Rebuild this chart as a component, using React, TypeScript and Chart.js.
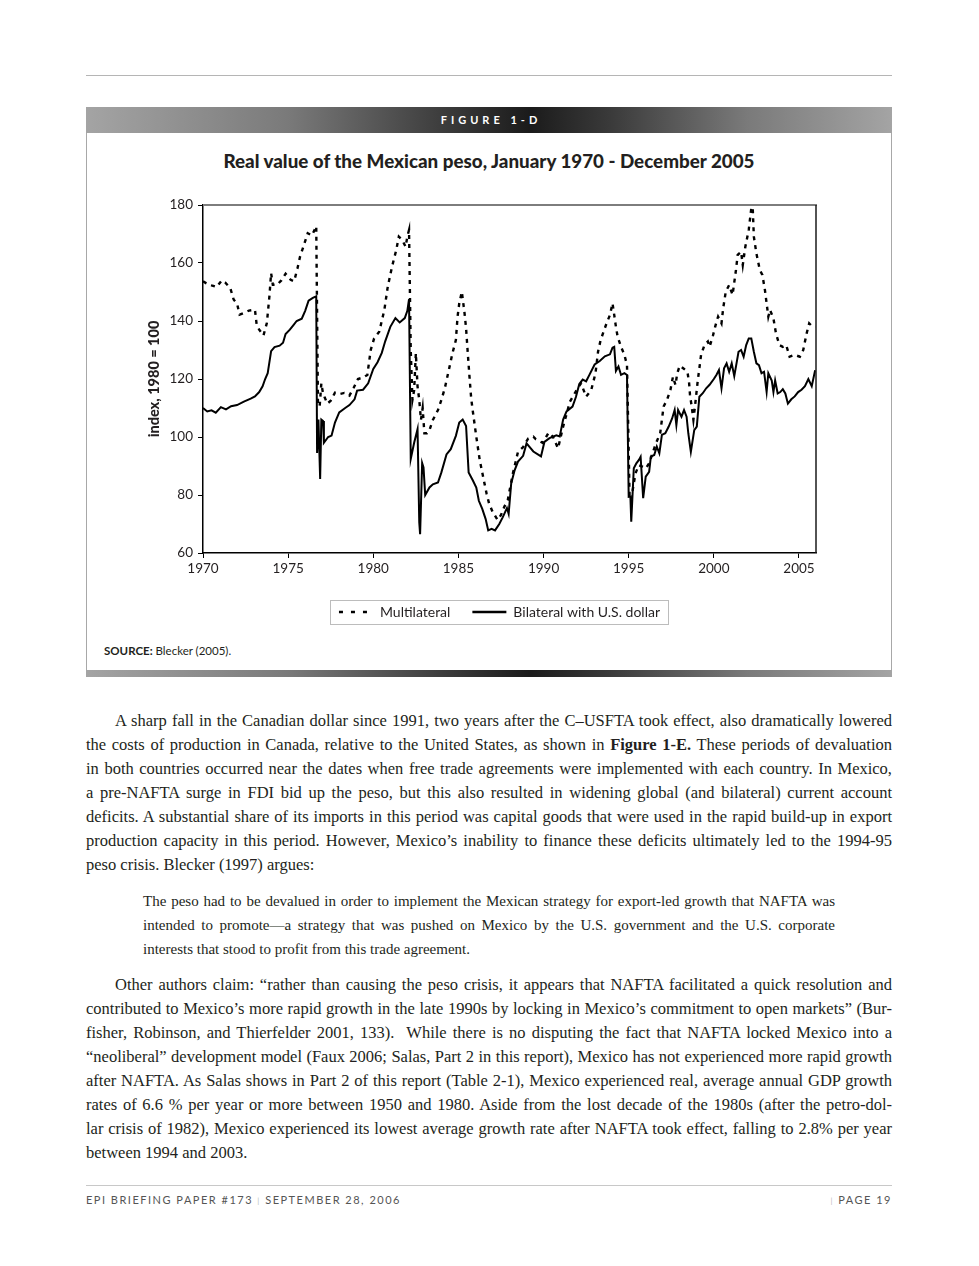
import React, { useEffect, useRef } from "react";
import { Chart, registerables } from "chart.js";

Chart.register(...registerables);

// ---- data (decimal year, index 1980 = 100) ----
const multilateralSeries: [number, number][] = [
  [1970.0, 153.7], [1970.2, 153], [1970.5, 152.3], [1970.8, 151.7], [1971.1, 154], [1971.3, 153.3],
  [1971.6, 151.4], [1971.8, 147.4], [1972.0, 146], [1972.15, 142.2], [1972.4, 142.8], [1972.7, 143.6],
  [1973.05, 143.9], [1973.15, 138.8], [1973.3, 137], [1973.55, 135], [1973.75, 139.3], [1973.9, 148.5],
  [1974.0, 156.5], [1974.1, 152.5], [1974.35, 152.5], [1974.6, 154], [1974.85, 156.3], [1975.15, 154.2],
  [1975.35, 153.7], [1975.55, 158.2], [1975.7, 162.2], [1975.9, 165.7], [1976.15, 170.3], [1976.4, 169.5],
  [1976.65, 172.7], [1976.75, 112], [1976.85, 110.5], [1976.95, 118.5], [1977.05, 115], [1977.15, 113.6],
  [1977.3, 111.5], [1977.5, 112.5], [1977.75, 115.3], [1978.0, 114.8], [1978.3, 115.2], [1978.6, 114.3],
  [1978.85, 117], [1979.1, 120], [1979.4, 120.5], [1979.65, 121.4], [1979.85, 130], [1980.05, 134],
  [1980.35, 136.3], [1980.65, 143.8], [1980.85, 151.8], [1981.1, 158.7], [1981.35, 164.5], [1981.5, 169.1],
  [1981.7, 167.9], [1981.9, 165.6], [1982.0, 169.1], [1982.1, 171.4], [1982.2, 130], [1982.3, 112.8],
  [1982.4, 116.2], [1982.5, 128.9], [1982.6, 117.4], [1982.7, 112.8], [1982.8, 105.9], [1982.9, 110],
  [1983.0, 101.3], [1983.15, 101.3], [1983.3, 102.4], [1983.5, 105.9], [1983.8, 109.3], [1984.0, 112.8],
  [1984.2, 116.8], [1984.5, 124.8], [1984.65, 128.9], [1984.85, 133.4], [1984.95, 141.5], [1985.05, 146.1],
  [1985.2, 150.1], [1985.35, 143.2], [1985.45, 137.5], [1985.55, 128.9], [1985.65, 120.8], [1985.75, 113.3],
  [1985.85, 108.7], [1986.05, 100.1], [1986.25, 92.1], [1986.45, 86.3], [1986.65, 80.6], [1986.8, 77.1],
  [1987.0, 74.3], [1987.3, 71.4], [1987.5, 73.1], [1987.7, 76], [1987.9, 78.3], [1988.2, 87.5],
  [1988.5, 94.9], [1988.8, 96.5], [1989.1, 99.5], [1989.4, 100.1], [1989.55, 99.2], [1989.95, 98],
  [1990.3, 101.5], [1990.55, 100.1], [1990.85, 96.1], [1991.15, 103.6], [1991.55, 112.2], [1992.0, 116.8],
  [1992.2, 118.5], [1992.5, 113.9], [1992.8, 116.2], [1993.05, 122], [1993.2, 129.4], [1993.35, 133.4],
  [1993.7, 139.2], [1993.9, 142.1], [1994.05, 146.1], [1994.15, 142.1], [1994.25, 138], [1994.35, 134.6],
  [1994.55, 131.1], [1994.75, 128.3], [1994.9, 124.8], [1995.05, 80], [1995.2, 80.5], [1995.4, 87.5],
  [1995.6, 90.3], [1995.8, 89.8], [1996.0, 89.2], [1996.2, 90.9], [1996.4, 94.4], [1996.6, 97.8],
  [1996.85, 101.3], [1997.05, 110.5], [1997.25, 112.8], [1997.45, 116.2], [1997.6, 120.8], [1997.75, 117.9],
  [1997.85, 122], [1998.0, 124.6], [1998.2, 123.7], [1998.45, 122.5], [1998.55, 118.5], [1998.6, 114.5],
  [1998.7, 110.5], [1998.8, 105.9], [1998.9, 111], [1999.05, 119.1], [1999.15, 123.7], [1999.25, 128.3],
  [1999.45, 131.7], [1999.65, 132.9], [1999.75, 131.1], [1999.95, 135], [2000.1, 138.5], [2000.25, 141.5],
  [2000.45, 139.2], [2000.55, 144.4], [2000.7, 150.1], [2000.9, 152.4], [2001.1, 149], [2001.3, 157.6],
  [2001.4, 162.8], [2001.6, 163.9], [2001.7, 159.3], [2001.85, 165.6], [2002.05, 171.4], [2002.2, 178.9],
  [2002.27, 181], [2002.35, 169.1], [2002.5, 163.3], [2002.7, 157.6], [2002.85, 155.9], [2003.0, 150.7],
  [2003.1, 146.1], [2003.2, 141.5], [2003.3, 143.8], [2003.5, 140.9], [2003.65, 135.7], [2003.85, 131.7],
  [2004.05, 131.1], [2004.25, 131.7], [2004.45, 127.7], [2004.75, 128.3], [2005.05, 127.7], [2005.25, 130],
  [2005.45, 135.7], [2005.6, 139.2], [2005.8, 138], [2005.95, 138],
];

const bilateralSeries: [number, number][] = [
  [1970.0, 110], [1970.25, 108.8], [1970.5, 109.2], [1970.75, 108.4], [1971.05, 110.3], [1971.35, 109.5],
  [1971.65, 110.6], [1972.0, 111], [1972.4, 112.2], [1972.8, 113.2], [1973.05, 114], [1973.3, 115.5],
  [1973.5, 117.5], [1973.65, 120], [1973.8, 122], [1974.0, 129.6], [1974.2, 131], [1974.5, 131.5],
  [1974.7, 132.5], [1974.85, 135.5], [1975.1, 137], [1975.3, 138.5], [1975.5, 140], [1975.8, 140.8],
  [1976.0, 143.5], [1976.2, 147], [1976.45, 148], [1976.65, 148.5], [1976.7, 94.5], [1976.78, 106],
  [1976.88, 85.5], [1976.95, 106], [1977.05, 105.5], [1977.1, 98], [1977.35, 100], [1977.55, 100.5],
  [1977.75, 105], [1978.0, 108.5], [1978.35, 110], [1978.6, 111], [1978.9, 113], [1979.05, 116],
  [1979.4, 116.3], [1979.7, 118.5], [1980.0, 123.5], [1980.25, 125.8], [1980.5, 129], [1980.7, 133],
  [1981.0, 138], [1981.3, 141], [1981.55, 139.5], [1981.85, 141], [1982.0, 143.5], [1982.1, 147.5],
  [1982.2, 92.4], [1982.4, 98], [1982.6, 102.7], [1982.7, 70.6], [1982.75, 66.5], [1982.87, 91],
  [1982.95, 89.5], [1983.05, 80], [1983.3, 82.6], [1983.5, 83.7], [1983.8, 84.3], [1984.0, 87.8],
  [1984.3, 94], [1984.55, 95.8], [1984.85, 100.4], [1985.05, 105], [1985.25, 106], [1985.45, 103.8],
  [1985.6, 87.8], [1985.85, 85], [1986.05, 82.6], [1986.2, 78], [1986.4, 75.2], [1986.6, 71.7],
  [1986.75, 67.8], [1986.95, 68.3], [1987.15, 67.8], [1987.4, 70], [1987.6, 72.3], [1987.85, 75.5],
  [1987.95, 73.5], [1988.1, 84], [1988.3, 88.5], [1988.5, 91.5], [1988.8, 93.5], [1989.0, 97.8],
  [1989.4, 95], [1989.85, 93.3], [1990.05, 98.3], [1990.35, 99.6], [1990.75, 100.6], [1990.95, 100.2],
  [1991.15, 106], [1991.35, 108.8], [1991.7, 110.5], [1991.9, 113.8], [1992.1, 118.3], [1992.3, 119.8],
  [1992.5, 119.2], [1992.7, 121.5], [1993.0, 125], [1993.3, 126.2], [1993.6, 127.8], [1993.9, 128.5],
  [1994.05, 130.8], [1994.15, 131.1], [1994.25, 122.8], [1994.4, 124.3], [1994.55, 121.4], [1994.75, 122],
  [1994.9, 121.4], [1995.0, 79.4], [1995.1, 79.5], [1995.15, 70.8], [1995.3, 89.2], [1995.45, 90.9],
  [1995.6, 92.1], [1995.7, 93.2], [1995.85, 78.9], [1996.0, 86.3], [1996.2, 88], [1996.3, 93.2],
  [1996.5, 93.8], [1996.65, 96.7], [1996.8, 94.4], [1996.95, 100.7], [1997.15, 101.3], [1997.35, 103.6],
  [1997.55, 106.4], [1997.7, 109.3], [1997.8, 104.1], [1997.9, 109.3], [1998.1, 107], [1998.25, 109.3],
  [1998.4, 107], [1998.5, 101.3], [1998.65, 94.9], [1998.85, 102.4], [1999.0, 103.6], [1999.15, 113.9],
  [1999.35, 115.1], [1999.55, 116.8], [1999.75, 118], [2000.0, 120], [2000.15, 121.4], [2000.3, 123.1],
  [2000.45, 116.8], [2000.6, 123.7], [2000.75, 125.4], [2000.9, 122.5], [2001.05, 125.4], [2001.2, 121],
  [2001.35, 126], [2001.45, 129.4], [2001.6, 130], [2001.75, 127.7], [2001.9, 131.7], [2002.05, 134],
  [2002.2, 134], [2002.35, 129.4], [2002.5, 125.4], [2002.65, 124.8], [2002.8, 122], [2002.95, 122.5],
  [2003.1, 115.5], [2003.2, 122], [2003.4, 119.5], [2003.5, 115.5], [2003.6, 119.5], [2003.75, 115],
  [2003.9, 115.5], [2004.05, 116.5], [2004.2, 115], [2004.35, 111.5], [2004.55, 113], [2004.75, 114],
  [2004.95, 115.5], [2005.15, 116.3], [2005.35, 117.5], [2005.55, 120], [2005.75, 117.5], [2005.95, 123],
];

const yearTicks = [1970, 1975, 1980, 1985, 1990, 1995, 2000, 2005];
const indexTicks = [60, 80, 100, 120, 140, 160, 180];
const seriesNames = ["Multilateral", "Bilateral with U.S. dollar"];

const TEXT = "#231f20";
const SANS = "Lato";

const framePlugin = {
  id: "frameAndLegendBox",
  afterDatasetsDraw(chart: any) {
    const { ctx, chartArea } = chart;
    const { left, right, top, bottom } = chartArea;
    ctx.save();
    ctx.strokeStyle = "#7d7d7d";
    ctx.lineWidth = 2;
    ctx.beginPath();
    ctx.moveTo(left, top);
    ctx.lineTo(right + 1, top);
    ctx.stroke();
    ctx.strokeStyle = "#1a1a1a";
    ctx.lineWidth = 1.5;
    ctx.beginPath();
    ctx.moveTo(right, top);
    ctx.lineTo(right, bottom);
    ctx.stroke();
    ctx.restore();
  },
  afterDraw(chart: any) {
    const legend = chart.legend;
    if (!legend || !legend.legendHitBoxes || !legend.legendHitBoxes.length) return;
    const boxes = legend.legendHitBoxes;
    const l = Math.min(...boxes.map((b: any) => b.left));
    const r = Math.max(...boxes.map((b: any) => b.left + b.width));
    const t = Math.min(...boxes.map((b: any) => b.top));
    const h = boxes[0].height;
    const { ctx } = chart;
    ctx.save();
    ctx.strokeStyle = "#bcbcbc";
    ctx.lineWidth = 1;
    ctx.strokeRect(Math.round(l - 9) + 0.5, Math.round(t - 5) + 0.5, Math.round(r - l + 17), Math.round(h + 10));
    ctx.restore();
  },
};

function PesoChart() {
  const ref = useRef<HTMLCanvasElement | null>(null);
  useEffect(() => {
    if (!ref.current) return;
    const chart = new Chart(ref.current, {
      type: "line",
      data: {
        datasets: [
          {
            label: seriesNames[0],
            data: multilateralSeries.map(([x, y]) => ({ x, y })),
            borderColor: "#000",
            borderWidth: 2.4,
            borderDash: [4, 5],
            pointRadius: 0,
            tension: 0,
            fill: false,
          },
          {
            label: seriesNames[1],
            data: bilateralSeries.map(([x, y]) => ({ x, y })),
            borderColor: "#000",
            borderWidth: 2,
            pointRadius: 0,
            tension: 0,
            fill: false,
          },
        ],
      },
      options: {
        animation: false,
        responsive: false,
        parsing: false as any,
        layout: { padding: { left: 56, right: 35, top: 30, bottom: 11 } },
        plugins: {
          title: { display: false },
          tooltip: { enabled: false },
          legend: {
            position: "bottom",
            labels: {
              usePointStyle: true,
              pointStyleWidth: 34,
              padding: 22,
              color: TEXT,
              font: { family: SANS, size: 14 },
              generateLabels: (c: any) =>
                c.data.datasets.map((ds: any, i: number) => ({
                  text: ds.label,
                  fillStyle: "#000",
                  strokeStyle: "#000",
                  lineWidth: 2.4,
                  lineDash: ds.borderDash ? [4, 8] : [],
                  lineDashOffset: 0,
                  pointStyle: "line",
                  hidden: false,
                  datasetIndex: i,
                  fontColor: TEXT,
                })),
            },
          },
        },
        scales: {
          x: {
            type: "linear",
            min: 1970,
            max: 2006,
            afterBuildTicks: (axis: any) => {
              axis.ticks = yearTicks.map((v) => ({ value: v }));
            },
            afterFit: (axis: any) => {
              axis.height = 30;
              axis.paddingLeft = 0;
              axis.paddingRight = 75;
            },
            ticks: {
              callback: (v: any) => String(v),
              color: TEXT,
              font: { family: SANS, size: 13.5 },
              padding: 3,
              maxRotation: 0,
              autoSkip: false,
            },
            grid: { drawOnChartArea: false, drawTicks: true, tickLength: 5, color: "#000", lineWidth: 1 },
            border: { display: true, color: "#000", width: 1.5 },
          },
          y: {
            type: "linear",
            min: 60,
            max: 180,
            afterBuildTicks: (axis: any) => {
              axis.ticks = indexTicks.map((v) => ({ value: v }));
            },
            afterFit: (axis: any) => {
              axis.width = 60;
            },
            ticks: {
              callback: (v: any) => String(v),
              color: TEXT,
              font: { family: SANS, size: 13.5 },
              padding: 5,
            },
            grid: { drawOnChartArea: false, drawTicks: true, tickLength: 5, color: "#000", lineWidth: 1 },
            border: { display: true, color: "#000", width: 1.5 },
            title: {
              display: true,
              text: "index, 1980 = 100",
              color: TEXT,
              font: { family: SANS, size: 14.5, weight: "900" },
              padding: { top: 3, bottom: 3 },
            },
          },
        },
      },
      plugins: [framePlugin],
    } as any);
    return () => chart.destroy();
  }, []);
  return <canvas ref={ref} width={804} height={465} style={{ display: "block", width: 804, height: 465 }} />;
}

const barGradient =
  "linear-gradient(90deg, #a4a4a4 0%, #7a7a7a 25%, #3a3a3a 45%, #1b1b1b 55%, #3a3a3a 65%, #7a7a7a 82%, #a4a4a4 100%)";

type LineSpec = { content: React.ReactNode; last?: boolean; indent?: boolean };

const para1: LineSpec[] = [
  { content: "A sharp fall in the Canadian dollar since 1991, two years after the C\u2013USFTA took effect, also dramatically lowered", indent: true },
  { content: <>the costs of production in Canada, relative to the United States, as shown in <b>Figure 1-E.</b> These periods of devaluation</> },
  { content: "in both countries occurred near the dates when free trade agreements were implemented with each country. In Mexico," },
  { content: "a pre-NAFTA surge in FDI bid up the peso, but this also resulted in widening global (and bilateral) current account" },
  { content: "deficits. A substantial share of its imports in this period was capital goods that were used in the rapid build-up in export" },
  { content: "production capacity in this period. However, Mexico\u2019s inability to finance these deficits ultimately led to the 1994-95" },
  { content: "peso crisis. Blecker (1997) argues:", last: true },
];

const quote: LineSpec[] = [
  { content: "The peso had to be devalued in order to implement the Mexican strategy for export-led growth that NAFTA was" },
  { content: "intended to promote\u2014a strategy that was pushed on Mexico by the U.S. government and the U.S. corporate" },
  { content: "interests that stood to profit from this trade agreement.", last: true },
];

const para3: LineSpec[] = [
  { content: "Other authors claim: \u201crather than causing the peso crisis, it appears that NAFTA facilitated a quick resolution and", indent: true },
  { content: "contributed to Mexico\u2019s more rapid growth in the late 1990s by locking in Mexico\u2019s commitment to open markets\u201d (Bur-" },
  { content: "fisher, Robinson, and Thierfelder 2001, 133).\u00a0 While there is no disputing the fact that NAFTA locked Mexico into a" },
  { content: "\u201cneoliberal\u201d development model (Faux 2006; Salas, Part 2 in this report), Mexico has not experienced more rapid growth" },
  { content: "after NAFTA. As Salas shows in Part 2 of this report (Table 2-1), Mexico experienced real, average annual GDP growth" },
  { content: "rates of 6.6 % per year or more between 1950 and 1980. Aside from the lost decade of the 1980s (after the petro-dol-" },
  { content: "lar crisis of 1982), Mexico experienced its lowest average growth rate after NAFTA took effect, falling to 2.8% per year" },
  { content: "between 1994 and 2003.", last: true },
];

function TextBlock({ lines, firstCenter, left, width, size }: { lines: LineSpec[]; firstCenter: number; left: number; width: number; size: number }) {
  return (
    <>
      {lines.map((ln, i) => (
        <div
          key={i}
          style={{
            position: "absolute",
            left,
            width,
            top: firstCenter + i * 24 - 11,
            height: 24,
            lineHeight: "24px",
            fontSize: size,
            fontFamily: "'Liberation Serif', 'DejaVu Serif', serif",
            color: TEXT,
            textAlign: ln.last ? "left" : "justify",
            textAlignLast: ln.last ? "left" : "justify",
            paddingLeft: ln.indent ? 29 : 0,
            boxSizing: "border-box",
          } as React.CSSProperties}
        >
          {ln.content}
        </div>
      ))}
    </>
  );
}

export default function App() {
  return (
    <div style={{ position: "absolute", left: 0, top: 0, width: 979, height: 1266, background: "#fff", overflow: "hidden" }}>
      {/* top rule */}
      <div style={{ position: "absolute", left: 86, top: 75, width: 806, height: 1, background: "#b5b5b5" }} />

      {/* figure header bar */}
      <div
        style={{
          position: "absolute",
          left: 86,
          top: 107,
          width: 806,
          height: 26,
          background: barGradient,
          color: "#fff",
          fontFamily: SANS,
          fontWeight: 700,
          fontSize: 11,
          letterSpacing: 4,
          lineHeight: "26px",
          textAlign: "center",
          paddingLeft: 4,
          boxSizing: "border-box",
        }}
      >
        FIGURE 1-D
      </div>

      {/* figure frame */}
      <div
        style={{
          position: "absolute",
          left: 86,
          top: 133,
          width: 806,
          height: 537,
          borderLeft: "1px solid #a8a8a8",
          borderRight: "1px solid #a8a8a8",
          boxSizing: "border-box",
        }}
      />
      <div style={{ position: "absolute", left: 86, top: 670, width: 806, height: 7, background: barGradient }} />

      {/* chart title */}
      <div
        style={{
          position: "absolute",
          left: 86,
          width: 806,
          top: 149,
          height: 24,
          lineHeight: "24px",
          textAlign: "center",
          fontFamily: SANS,
          fontWeight: 900,
          fontSize: 18.8,
          color: TEXT,
        }}
      >
        Real value of the Mexican peso, January 1970 - December 2005
      </div>

      <div style={{ position: "absolute", left: 87, top: 175 }}>
        <PesoChart />
      </div>

      <div
        style={{
          position: "absolute",
          left: 104,
          top: 644,
          fontFamily: SANS,
          fontSize: 11.5,
          lineHeight: "14px",
          color: TEXT,
        }}
      >
        <b>SOURCE:</b> Blecker (2005).
      </div>

      <TextBlock lines={para1} firstCenter={720} left={86} width={806} size={16.5} />
      <TextBlock lines={quote} firstCenter={900} left={143} width={692} size={15} />
      <TextBlock lines={para3} firstCenter={984} left={86} width={806} size={16.5} />

      {/* footer */}
      <div style={{ position: "absolute", left: 86, top: 1185, width: 806, height: 1, background: "#c8c8c8" }} />
      <div
        style={{
          position: "absolute",
          left: 86,
          top: 1193,
          height: 14,
          lineHeight: "14px",
          fontFamily: SANS,
          fontSize: 11,
          letterSpacing: 1.5,
          color: "#555",
          whiteSpace: "nowrap",
        }}
      >
        EPI BRIEFING PAPER #173 <span style={{ color: "#bbb", fontSize: 8 }}>|</span> SEPTEMBER 28, 2006
      </div>
      <div
        style={{
          position: "absolute",
          right: 979 - 892,
          top: 1193,
          height: 14,
          lineHeight: "14px",
          fontFamily: SANS,
          fontSize: 11,
          letterSpacing: 1.5,
          color: "#555",
          whiteSpace: "nowrap",
        }}
      >
        <span style={{ color: "#bbb", fontSize: 8 }}>|</span> PAGE 19
      </div>
    </div>
  );
}
